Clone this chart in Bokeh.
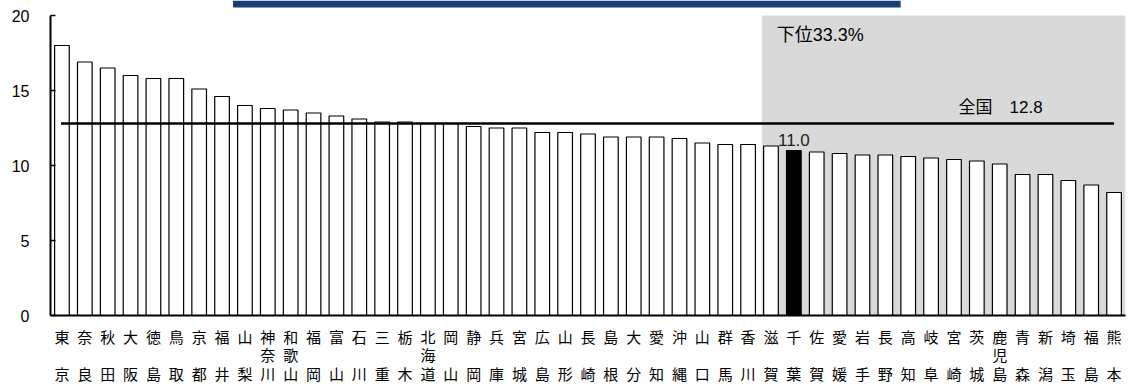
from bokeh.plotting import figure
from bokeh.models import Range1d, FixedTicker, ColumnDataSource
from bokeh.core.properties import value
from bokeh.embed import file_html
from bokeh.resources import INLINE

# ---- data ----
prefectures = ["東京", "奈良", "秋田", "大阪", "徳島", "鳥取", "京都", "福井", "山梨", "神奈川",
               "和歌山", "福岡", "富山", "石川", "三重", "栃木", "北海道", "岡山", "静岡", "兵庫",
               "宮城", "広島", "山形", "長崎", "島根", "大分", "愛知", "沖縄", "山口", "群馬",
               "香川", "滋賀", "千葉", "佐賀", "愛媛", "岩手", "長野", "高知", "岐阜", "宮崎",
               "茨城", "鹿児島", "青森", "新潟", "埼玉", "福島", "熊本"]
rates = [18.0, 16.9, 16.5, 16.0, 15.8, 15.8, 15.1, 14.6, 14.0, 13.8,
         13.7, 13.5, 13.3, 13.1, 12.9, 12.9, 12.8, 12.8, 12.6, 12.5,
         12.5, 12.2, 12.2, 12.1, 11.9, 11.9, 11.9, 11.8, 11.5, 11.4,
         11.4, 11.3, 11.0, 10.9, 10.8, 10.7, 10.7, 10.6, 10.5, 10.4,
         10.3, 10.1, 9.4, 9.4, 9.0, 8.7, 8.2]
national_avg = 12.8
national_label = "全国　12.8"
highlight = "千葉"
highlight_label = "11.0"
bottom_label = "下位33.3%"
bottom_count = 16
y_ticks = [0, 5, 10, 15, 20]

n = len(prefectures)
xs = [i + 0.5 for i in range(n)]
colors = ["black" if p_ == highlight else "white" for p_ in prefectures]


def vertical_label(name):
    chars = list(name)
    if len(chars) == 2:
        chars = [chars[0], "　", chars[1]]
    return "\n".join(chars)


src = ColumnDataSource(dict(x=xs, top=rates, color=colors))

p = figure(width=1128, height=387, output_backend="svg", toolbar_location=None,
           x_range=Range1d(0, n), y_range=Range1d(0, 21),
           min_border_left=50, min_border_right=3, min_border_top=0, min_border_bottom=71)
p.outline_line_color = None
p.grid.visible = False
p.background_fill_color = "white"
p.border_fill_color = "white"

# header decoration
p.quad(left=7.98, right=37.17, bottom=20.54, top=21, fill_color="#173f77", line_color=None)

# bottom-third shaded region
b0 = n - bottom_count
p.quad(left=b0 + 0.1, right=n, bottom=0, top=20, fill_color="#d9d9d9", line_color=None)

p.vbar(x="x", top="top", width=0.64, source=src, fill_color="color",
       line_color="black", line_width=1.2)

# national average line
p.segment(x0=[0.46], x1=[n - 0.5], y0=[national_avg], y1=[national_avg],
          line_color="black", line_width=2.5)

hi = prefectures.index(highlight)
p.text(x=[hi + 0.5], y=[rates[hi]], text=[highlight_label], text_align="center",
       text_baseline="bottom", y_offset=-5, text_font=value("Liberation Sans"),
       text_font_size="17px", text_color="#222222")
p.text(x=[b0 + 0.75], y=[18.7], text=[bottom_label], text_align="left",
       text_baseline="middle", text_font=value("Liberation Sans, Noto Sans CJK JP"),
       text_font_size="18px", text_color="black")
p.text(x=[39.7], y=[13.9], text=[national_label], text_align="left",
       text_baseline="middle", text_font=value("Liberation Sans, Noto Sans CJK JP"),
       text_font_size="17px", text_color="black")

# axes
ya = p.yaxis[0]
ya.ticker = FixedTicker(ticks=y_ticks)
ya.bounds = (0, 20)
ya.major_tick_in = 5
ya.major_tick_out = 0
ya.minor_tick_line_color = None
ya.axis_line_width = 2
ya.major_tick_line_width = 1.5
ya.major_label_standoff = 21
ya.major_label_text_font = "Liberation Sans"
ya.major_label_text_font_size = "16px"
ya.major_label_text_color = "black"

xa = p.xaxis[0]
xa.ticker = FixedTicker(ticks=xs)
xa.major_label_overrides = {x: vertical_label(nm) for x, nm in zip(xs, prefectures)}
xa.major_tick_in = 0
xa.major_tick_out = 0
xa.minor_tick_line_color = None
xa.axis_line_width = 2
xa.major_label_standoff = 10
xa.major_label_text_font = "Noto Sans CJK JP"
xa.major_label_text_font_size = "15px"
xa.major_label_text_line_height = 0.9
xa.major_label_text_color = "black"

open("out.html", "w").write(file_html(p, INLINE))
